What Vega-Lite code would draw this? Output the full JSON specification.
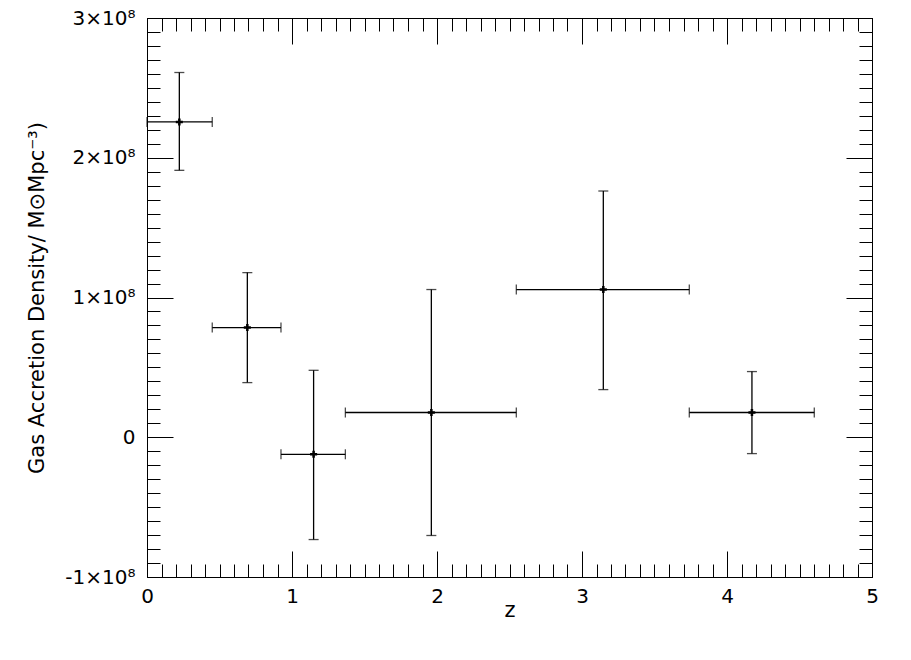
{
  "$schema": "https://vega.github.io/schema/vega-lite/v6.json",
  "width": 725,
  "height": 559,
  "autosize": {"type": "none"},
  "padding": {"left": 147, "top": 18, "right": 39, "bottom": 83},
  "background": "white",
  "config": {
    "view": {"stroke": "black", "strokeWidth": 1},
    "axis": {
      "domainColor": "black", "tickColor": "black", "labelColor": "black", "titleColor": "black",
      "labelFont": "DejaVu Sans", "titleFont": "DejaVu Sans",
      "labelFontSize": 20, "titleFontSize": 21, "titleFontWeight": "normal",
      "grid": false, "tickWidth": 1, "domainWidth": 1, "labelOverlap": false, "labelFlush": false
    }
  },
  "data": {
    "values": [
      {"z": 0.223, "zlo": 0.0, "zhi": 0.45, "v": 225600000, "vlo": 191000000, "vhi": 261000000},
      {"z": 0.692, "zlo": 0.45, "zhi": 0.924, "v": 78500000, "vlo": 39100000, "vhi": 117800000},
      {"z": 1.149, "zlo": 0.924, "zhi": 1.368, "v": -12200000, "vlo": -73200000, "vhi": 47900000},
      {"z": 1.961, "zlo": 1.368, "zhi": 2.547, "v": 17700000, "vlo": -70300000, "vhi": 105700000},
      {"z": 3.147, "zlo": 2.547, "zhi": 3.74, "v": 105700000, "vlo": 34100000, "vhi": 176200000},
      {"z": 4.172, "zlo": 3.74, "zhi": 4.602, "v": 17700000, "vlo": -11700000, "vhi": 47000000}
    ]
  },
  "layer": [
    {
      "mark": {"type": "rule", "strokeWidth": 1.3, "color": "black"},
      "encoding": {
        "x": {
          "field": "z", "type": "quantitative",
          "scale": {"domain": [0, 5], "nice": false, "zero": false},
          "axis": {
            "orient": "bottom", "title": "z", "titlePadding": -20,
            "labelFont": "DejaVu Sans", "labelFontSize": 20, "titleFont": "DejaVu Sans", "titleFontSize": 21,
            "values": [0,0.1,0.2,0.3,0.4,0.5,0.6,0.7,0.8,0.9,1,1.1,1.2,1.3,1.4,1.5,1.6,1.7,1.8,1.9,2,2.1,2.2,2.3,2.4,2.5,2.6,2.7,2.8,2.9,3,3.1,3.2,3.3,3.4,3.5,3.6,3.7,3.8,3.9,4,4.1,4.2,4.3,4.4,4.5,4.6,4.7,4.8,4.9,5],
            "tickSize": {"condition": {"test": "abs(datum.value - round(datum.value)) < 1e-6", "value": -26}, "value": -13},
            "labelExpr": "abs(datum.value - round(datum.value)) < 1e-6 ? format(datum.value, 'd') : ''",
            "labelPadding": 35
          }
        },
        "y": {
          "field": "vlo", "type": "quantitative",
          "scale": {"domain": [-100000000, 300000000], "nice": false, "zero": false},
          "axis": {
            "orient": "left", "title": "Gas Accretion Density/ M⊙Mpc⁻³)", "titlePadding": 17,
            "labelFont": "DejaVu Sans", "labelFontSize": 20, "titleFont": "DejaVu Sans", "titleFontSize": 21,
            "values": [-100000000,-90000000,-80000000,-70000000,-60000000,-50000000,-40000000,-30000000,-20000000,-10000000,0,10000000,20000000,30000000,40000000,50000000,60000000,70000000,80000000,90000000,100000000,110000000,120000000,130000000,140000000,150000000,160000000,170000000,180000000,190000000,200000000,210000000,220000000,230000000,240000000,250000000,260000000,270000000,280000000,290000000,300000000],
            "tickSize": {"condition": {"test": "abs(datum.value/1e8 - round(datum.value/1e8)) < 1e-6", "value": -26}, "value": -13},
            "labelExpr": "abs(datum.value/1e8 - round(datum.value/1e8)) < 1e-6 ? (datum.value == 0 ? '0' : (datum.value < 0 ? '-' : '') + format(abs(datum.value/1e8), 'd') + '×10⁸') : ''",
            "labelPadding": 38
          }
        },
        "y2": {"field": "vhi"}
      }
    },
    {
      "mark": {"type": "rule", "strokeWidth": 1.3, "color": "black"},
      "encoding": {
        "x": {
          "field": "zlo", "type": "quantitative",
          "axis": {
            "orient": "top", "title": null, "labels": false,
            "values": [0,0.1,0.2,0.3,0.4,0.5,0.6,0.7,0.8,0.9,1,1.1,1.2,1.3,1.4,1.5,1.6,1.7,1.8,1.9,2,2.1,2.2,2.3,2.4,2.5,2.6,2.7,2.8,2.9,3,3.1,3.2,3.3,3.4,3.5,3.6,3.7,3.8,3.9,4,4.1,4.2,4.3,4.4,4.5,4.6,4.7,4.8,4.9,5],
            "tickSize": {"condition": {"test": "abs(datum.value - round(datum.value)) < 1e-6", "value": -26}, "value": -13}
          }
        },
        "x2": {"field": "zhi"},
        "y": {
          "field": "v", "type": "quantitative",
          "axis": {
            "orient": "right", "title": null, "labels": false,
            "values": [-100000000,-90000000,-80000000,-70000000,-60000000,-50000000,-40000000,-30000000,-20000000,-10000000,0,10000000,20000000,30000000,40000000,50000000,60000000,70000000,80000000,90000000,100000000,110000000,120000000,130000000,140000000,150000000,160000000,170000000,180000000,190000000,200000000,210000000,220000000,230000000,240000000,250000000,260000000,270000000,280000000,290000000,300000000],
            "tickSize": {"condition": {"test": "abs(datum.value/1e8 - round(datum.value/1e8)) < 1e-6", "value": -26}, "value": -13}
          }
        }
      }
    },
    {
      "mark": {"type": "tick", "orient": "horizontal", "size": 10, "thickness": 1.3, "color": "black"},
      "encoding": {
        "x": {"field": "z", "type": "quantitative", "axis": null},
        "y": {"field": "vlo", "type": "quantitative", "axis": null}
      }
    },
    {
      "mark": {"type": "tick", "orient": "horizontal", "size": 10, "thickness": 1.3, "color": "black"},
      "encoding": {
        "x": {"field": "z", "type": "quantitative", "axis": null},
        "y": {"field": "vhi", "type": "quantitative", "axis": null}
      }
    },
    {
      "mark": {"type": "tick", "orient": "vertical", "size": 10, "thickness": 1.3, "color": "black"},
      "encoding": {
        "x": {"field": "zlo", "type": "quantitative", "axis": null},
        "y": {"field": "v", "type": "quantitative", "axis": null}
      }
    },
    {
      "mark": {"type": "tick", "orient": "vertical", "size": 10, "thickness": 1.3, "color": "black"},
      "encoding": {
        "x": {"field": "zhi", "type": "quantitative", "axis": null},
        "y": {"field": "v", "type": "quantitative", "axis": null}
      }
    },
    {
      "mark": {"type": "point", "shape": "M-1,0H1M0,-1V1", "size": 50, "strokeWidth": 2.5, "color": "black", "filled": false, "opacity": 1},
      "encoding": {
        "x": {"field": "z", "type": "quantitative", "axis": null},
        "y": {"field": "v", "type": "quantitative", "axis": null}
      }
    }
  ],
  "resolve": {"axis": {"x": "independent", "y": "independent"}}
}
